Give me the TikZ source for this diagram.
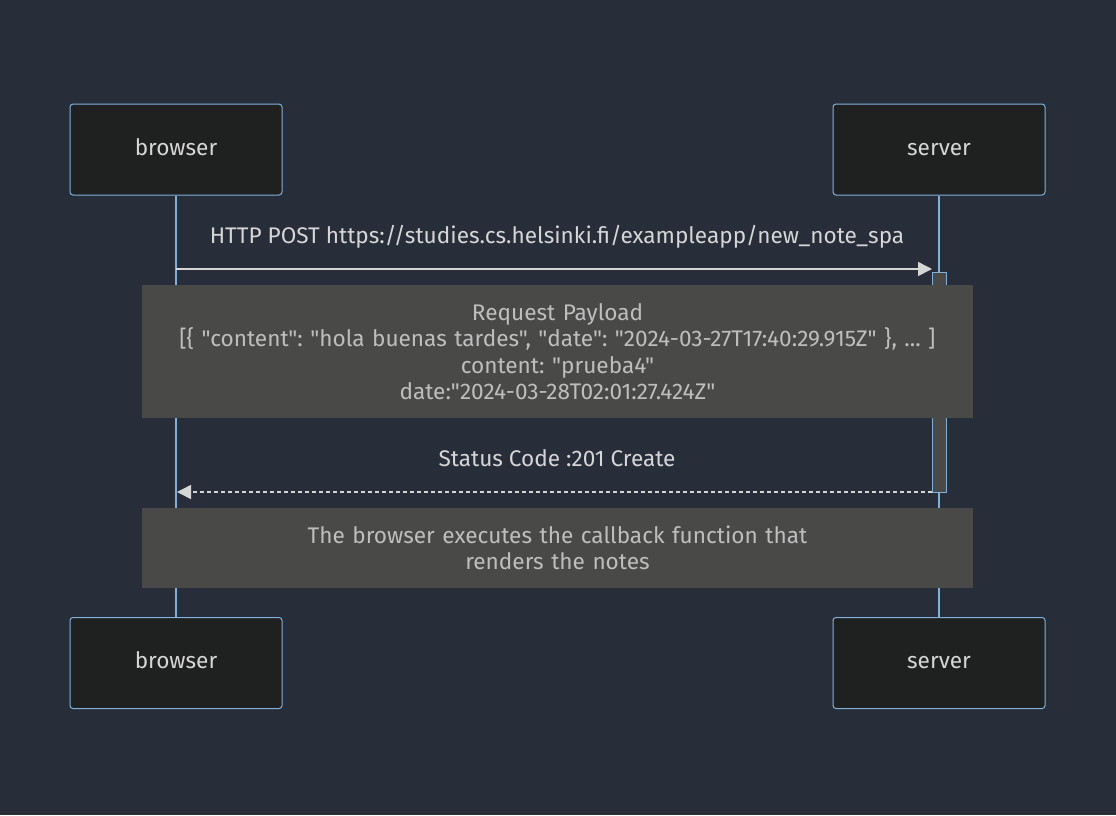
\documentclass[tikz,border=0pt]{standalone}
\usepackage{fontspec}
\setmainfont{Fira Sans}[Ligatures=TeXOff]
\usetikzlibrary{arrows.meta}
\definecolor{bg}{RGB}{40,45,58}
\definecolor{actorfill}{RGB}{31,32,32}
\definecolor{actorline}{RGB}{129,177,219}
\definecolor{txt}{RGB}{214,214,214}
\definecolor{notefill}{RGB}{73,74,72}
\definecolor{notetxt}{RGB}{190,190,190}
\definecolor{msgline}{RGB}{214,214,214}
\frenchspacing
\begin{document}
\frenchspacing
\begin{tikzpicture}[x=1pt,y=-1pt,
  actor/.style={draw=actorline, fill=actorfill, rounded corners=3pt, line width=1pt,
    minimum width=212pt, minimum height=91pt, text=txt, font=\fontsize{22.6}{26}\selectfont,
    text height=1.18em, text depth=0pt, inner sep=0pt},
  life/.style={draw=actorline, line width=2.2pt},
  actbar/.style={draw=actorline, fill=notefill, line width=1pt, minimum width=14pt, minimum height=220pt, inner sep=0pt},
  notebox/.style={fill=notefill, minimum width=831pt, text width=831pt, align=center, inner sep=0pt,
    text=notetxt, font=\fontsize{22.6}{26.5}\selectfont},
  msg/.style={draw=msgline, line width=1.5pt, -{Triangle[length=14pt,width=14pt]}},
  msgdash/.style={msg, dash pattern=on 4pt off 3pt},
  msglabel/.style={text=txt, font=\fontsize{22.6}{26}\selectfont, text height=1.18em, text depth=0pt, inner sep=0pt}]
\fill[bg] (0,0) rectangle (1116,815);
\useasboundingbox (0,0) rectangle (1116,815);
% actors
\node[actor] (b1) at (176,149.5) {browser};
\node[actor] (s1) at (939,149.5) {server};
\node[actor] (b2) at (176,663) {browser};
\node[actor] (s2) at (939,663) {server};
% lifelines
\draw[life] (b1.south) -- (b2.north);
\draw[life] (s1.south) -- (s2.north);
% activation
\node[actbar] (act) at (939,382) {};
% message 1
\coordinate (m1s) at (176,269);
\coordinate (m1e) at (932,269);
\draw[msg] (m1s) -- (m1e);
\node[msglabel] (l1) at (557,238) {HTTP POST https://studies.cs.helsinki.fi/exampleapp/new\_note\_spa};
% note 1
\node[notebox, minimum height=133pt] (n1) at (557.5,351.5) {Request Payload\\
{[}\{ "content": "hola buenas tardes", "date": "2024-03-27T17:40:29.915Z" \}, ... ]\\
content: "prueba4"\\
date:"2024-03-28T02:01:27.424Z"};
% message 2
\coordinate (m2s) at (932,492);
\coordinate (m2e) at (177,492);
\draw[msgdash] (m2s) -- (m2e);
\node[msglabel] (l2) at (557,461) {Status Code :201 Create};
% note 2
\node[notebox, minimum height=80pt] (n2) at (557.5,548) {The browser executes the callback function that\\renders the notes};
\end{tikzpicture}
\end{document}
